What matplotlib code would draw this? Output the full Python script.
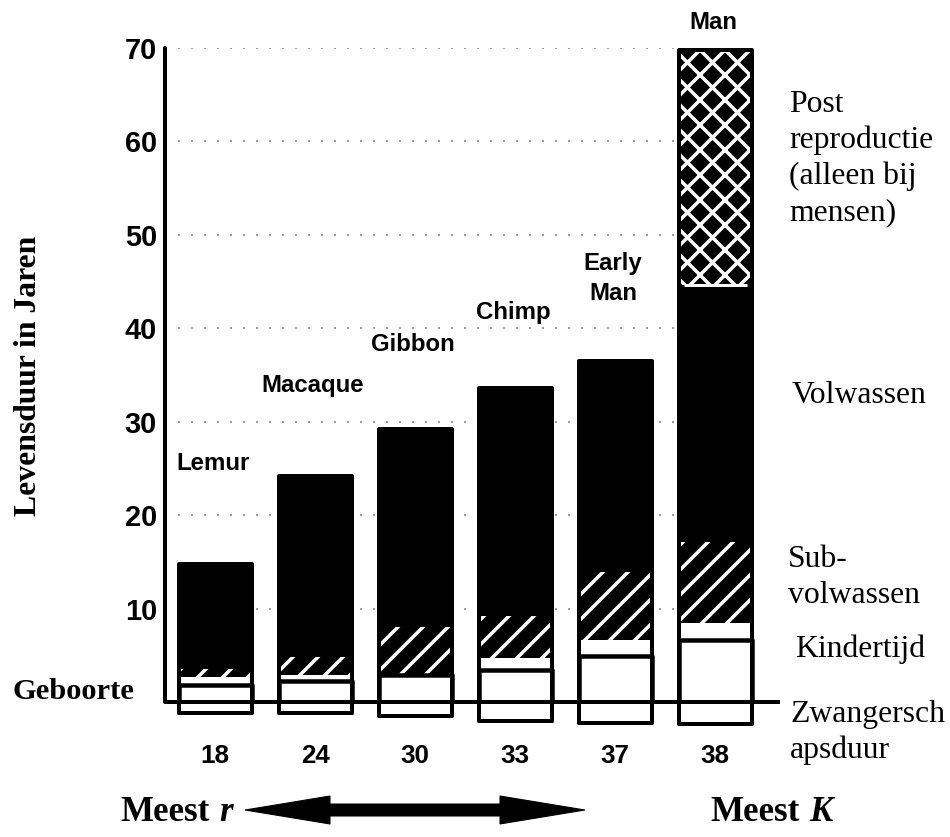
import matplotlib
matplotlib.use("Agg")
import matplotlib.pyplot as plt
import matplotlib.transforms as mtransforms
from matplotlib.patches import Polygon
import numpy as np

DPI = 150
W, H = 950, 837
PT = 72 / DPI  # points per pixel

# ---------------- data ----------------
species = ["Lemur", "Macaque", "Gibbon", "Chimp", "Early\nMan", "Man"]
bottom_values = ["18", "24", "30", "33", "37", "38"]
gestation = np.array([1.2, 1.2, 1.5, 2.0, 2.25, 2.35])          # years before birth
infancy_end = np.array([1.8, 2.3, 2.85, 3.4, 4.9, 6.6])          # Kindertijd
juvenile_hatch_start = np.array([2.7, 2.9, 2.85, 4.7, 6.6, 8.5])
juvenile_end = np.array([3.5, 4.8, 8.0, 9.2, 13.9, 17.1])        # Sub-volwassen
lifespan = np.array([14.8, 24.2, 29.2, 33.6, 36.5, 69.8])
post_repro_start = np.array([np.nan, np.nan, np.nan, np.nan, np.nan, 44.6])
yticks = [10, 20, 30, 40, 50, 60, 70]

SANS = "Liberation Sans"
SERIF = "Liberation Serif"
plt.rcParams["hatch.linewidth"] = 3.5 * PT


def F(px):
    return px * PT


fig = plt.figure(figsize=(W / DPI, H / DPI), dpi=DPI)
fig.patch.set_facecolor("white")

# axes: x -0.5 -> 5.65 spans px 165..780 ; y 70 at py 48, 0 at py 702
PX_PER_YEAR = (702 - 48) / 70.0
ymin = -(730 - 702) / PX_PER_YEAR
ax = fig.add_axes([165 / W, 1 - 730 / H, (780 - 165) / W, (730 - 48) / H])
ax.set_xlim(-0.5, 5.65)
ax.set_ylim(ymin, 70)
ax.set_facecolor("none")

x = np.arange(len(species))
bw = 0.73
LW = F(4)

# grid lines
ax.hlines(yticks, -0.37, 5.42, colors="#a0a0a0", linewidth=F(2),
          linestyles=(0, (1, 5.5)), zorder=0)

total = lifespan + gestation
# black base (adult)
ax.bar(x, total, bottom=-gestation, width=bw, color="black", linewidth=0,
       zorder=2, clip_on=False)
# white band at start of sub-adult period
ax.bar(x, juvenile_hatch_start - infancy_end, bottom=infancy_end, width=bw,
       color="white", linewidth=0, zorder=3, clip_on=False)
# hatched sub-adult period
ax.bar(x, juvenile_end - juvenile_hatch_start, bottom=juvenile_hatch_start,
       width=bw, color="black", edgecolor="white", linewidth=0, hatch="//",
       zorder=3, clip_on=False)
# post-reproductive (humans only)
m = ~np.isnan(post_repro_start)
ax.bar(x[m], lifespan[m] - post_repro_start[m], bottom=post_repro_start[m],
       width=bw, color="black", edgecolor="white", linewidth=0, hatch="xx",
       zorder=3, clip_on=False)
ax.hlines(post_repro_start[m], x[m] - bw / 2 + 0.05, x[m] + bw / 2 - 0.05,
          colors="white", linewidth=F(3), zorder=3.5)
# infancy
b = ax.bar(x, infancy_end, bottom=0, width=bw, color="white",
           edgecolor="black", linewidth=F(4.5), zorder=4, clip_on=False)
# gestation
b2 = ax.bar(x, gestation, bottom=-gestation, width=bw, color="white",
            edgecolor="black", linewidth=LW, zorder=4, clip_on=False)
# outline
b3 = ax.bar(x, total, bottom=-gestation, width=bw, fill=False,
            edgecolor="black", linewidth=LW, zorder=5, clip_on=False)
for cont in (b, b2, b3):
    for p in cont:
        p.set_joinstyle("round")

# birth line
ax.hlines(0, -0.5, 5.65, colors="black", linewidth=LW, zorder=6,
          clip_on=False)

# spines / ticks
for s in ("top", "right", "bottom"):
    ax.spines[s].set_visible(False)
ax.spines["left"].set_linewidth(LW)
ax.spines["left"].set_bounds(0, 70)
ax.spines["left"].set_capstyle("round")
ax.set_yticks(yticks)
ax.set_yticklabels([str(v) for v in yticks], fontfamily=SANS,
                   fontweight="bold", fontsize=F(29))
ax.tick_params(axis="y", length=0, pad=F(8))
ax.set_xticks(x)
ax.set_xticklabels(bottom_values, fontfamily=SANS, fontweight="bold",
                   fontsize=F(26))
ax.tick_params(axis="x", length=0, pad=F(14))


def lines_text(xd, yd, text, pitch_px, **kw):
    for i, line in enumerate(text.split("\n")):
        tr = mtransforms.offset_copy(ax.transData, fig=fig, x=0,
                                     y=-i * pitch_px, units="dots")
        ax.text(xd, yd, line, transform=tr, clip_on=False, **kw)


def py2y(py):
    return (702 - py) / PX_PER_YEAR


def px2x(px):
    return -0.5 + (px - 165) / 100.0


# species labels (first-line centre, pixel rows)
label_rows = [463, 385, 344, 312, 263, 22]
for xi, name, row in zip(x, species, label_rows):
    lines_text(xi - 0.02, py2y(row), name, 30, ha="center", va="center",
               fontfamily=SANS, fontweight="bold", fontsize=F(24))

# right-hand stage labels (x px, first baseline py)
stage_labels = [
    ("Post\nreproductie\n(alleen bij\nmensen)", 789, 112),
    ("Volwassen", 792, 403),
    ("Sub-\nvolwassen", 788, 567),
    ("Kindertijd", 795, 657),
    ("Zwangersch\napsduur", 790, 722),
]
for txt, pxx, pyy in stage_labels:
    lines_text(px2x(pxx), py2y(pyy), txt, 36, ha="left", va="baseline",
               fontfamily=SERIF, fontsize=F(31.7))

ax.text(px2x(13), py2y(699), "Geboorte", ha="left", va="baseline",
        fontfamily=SERIF, fontweight="bold", fontsize=F(30.5), clip_on=False)
ax.text(px2x(29), py2y(376), "Levensduur in Jaren", rotation=90,
        ha="center", va="center", fontfamily=SERIF, fontweight="bold",
        fontsize=F(31.7), clip_on=False)


# bottom r/K arrow
def fx(px):
    return px / W


def fy(py):
    return 1 - py / H


base = 821
fig.text(fx(120), fy(base), "Meest", ha="left", va="baseline",
         fontfamily=SERIF, fontweight="bold", fontsize=F(35))
fig.text(fx(219), fy(base), "r", ha="left", va="baseline",
         fontfamily=SERIF, fontweight="bold", fontstyle="italic",
         fontsize=F(35))
fig.text(fx(710), fy(base), "Meest", ha="left", va="baseline",
         fontfamily=SERIF, fontweight="bold", fontsize=F(35))
fig.text(fx(809), fy(base), "K", ha="left", va="baseline",
         fontfamily=SERIF, fontweight="bold", fontstyle="italic",
         fontsize=F(35))

ay = 810
pts = [(245, ay), (330, ay - 14), (330, ay - 6), (500, ay - 6), (500, ay - 14),
       (585, ay), (500, ay + 14), (500, ay + 6), (330, ay + 6), (330, ay + 14)]
arrow = Polygon([(fx(a), fy(bb)) for a, bb in pts], closed=True,
                facecolor="black", edgecolor="black", linewidth=0.5,
                transform=fig.transFigure)
fig.add_artist(arrow)

fig.savefig("out.png", dpi=DPI, facecolor="white")
